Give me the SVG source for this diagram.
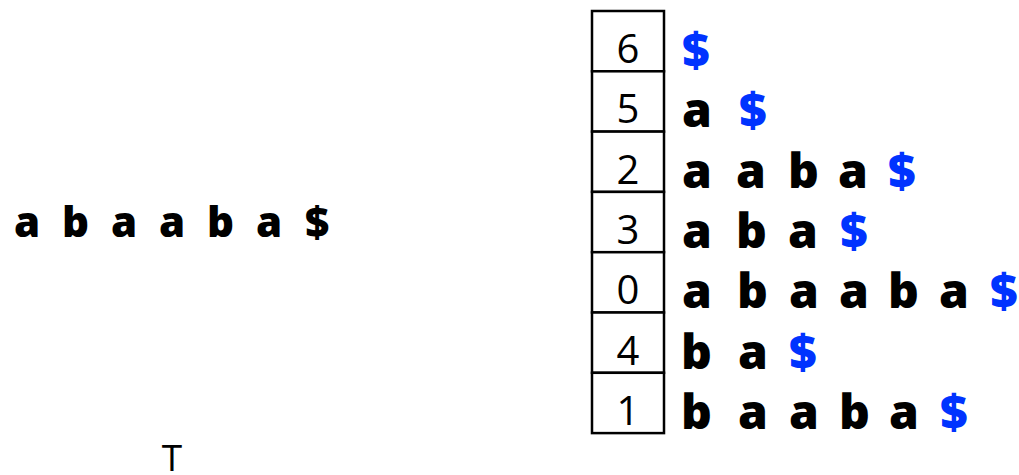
<svg xmlns="http://www.w3.org/2000/svg" width="1019" height="475" viewBox="0 0 1019 475">
<style>
.b{font-family:"Open Sans","Noto Sans",sans-serif;font-weight:800;fill:#000}
.s{font-size:48px}
.l{font-size:42px}
.d{fill:#0033ff}
.n{font-family:"Open Sans","Noto Sans",sans-serif;font-size:40px;fill:#000;text-anchor:middle}
.box{fill:#fff;stroke:#000;stroke-width:2.5}
</style>
<rect width="1019" height="475" fill="#fff"/>
<g id="text-T">
<text class="b l" y="237"><tspan x="14">a</tspan><tspan x="62">b</tspan><tspan x="111">a</tspan><tspan x="159">a</tspan><tspan x="207">b</tspan><tspan x="256">a</tspan><tspan x="305">$</tspan></text>
<text class="n" x="172" y="471" style="font-size:37px">T</text>
</g>
<g id="sa-6"><rect class="box" x="592" y="11" width="72" height="60.3"/><text class="n" x="628" y="63">6</text>
<text class="b s" y="67"><tspan x="682" class="d">$</tspan></text></g>
<g id="sa-5"><rect class="box" x="592" y="71.3" width="72" height="60.3"/><text class="n" x="628" y="123">5</text>
<text class="b s" y="127"><tspan x="682">a</tspan><tspan x="739" class="d">$</tspan></text></g>
<g id="sa-2"><rect class="box" x="592" y="131.6" width="72" height="60.3"/><text class="n" x="628" y="184">2</text>
<text class="b s" y="188"><tspan x="682">a</tspan><tspan x="736">a</tspan><tspan x="788">b</tspan><tspan x="838">a</tspan><tspan x="888" class="d">$</tspan></text></g>
<g id="sa-3"><rect class="box" x="592" y="191.9" width="72" height="60.3"/><text class="n" x="628" y="244">3</text>
<text class="b s" y="248"><tspan x="682">a</tspan><tspan x="736">b</tspan><tspan x="788">a</tspan><tspan x="840" class="d">$</tspan></text></g>
<g id="sa-0"><rect class="box" x="592" y="252.2" width="72" height="60.3"/><text class="n" x="628" y="304">0</text>
<text class="b s" y="308"><tspan x="682">a</tspan><tspan x="737">b</tspan><tspan x="789">a</tspan><tspan x="839">a</tspan><tspan x="888">b</tspan><tspan x="939">a</tspan><tspan x="990" class="d">$</tspan></text></g>
<g id="sa-4"><rect class="box" x="592" y="312.5" width="72" height="60.3"/><text class="n" x="628" y="365">4</text>
<text class="b s" y="369"><tspan x="681">b</tspan><tspan x="738">a</tspan><tspan x="789" class="d">$</tspan></text></g>
<g id="sa-1"><rect class="box" x="592" y="372.8" width="72" height="60.3"/><text class="n" x="628" y="425">1</text>
<text class="b s" y="429"><tspan x="681">b</tspan><tspan x="738">a</tspan><tspan x="789">a</tspan><tspan x="839">b</tspan><tspan x="889">a</tspan><tspan x="940" class="d">$</tspan></text></g>
<g id="connectors"></g>
</svg>
